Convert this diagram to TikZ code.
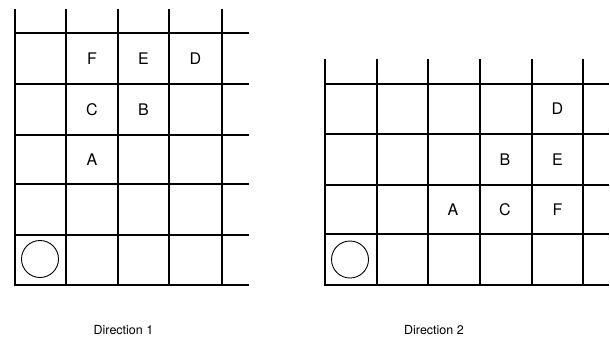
\documentclass[tikz,border=0pt]{standalone}
\usepackage{fontspec}
\setmainfont{TeX Gyre Heros}
\tikzset{
  gridLine/.style={line width=1.9pt, line cap=rect, color=black},
  originMark/.style={line width=0.9pt, color=black},
  cellLabel/.style={font=\fontsize{16}{16}\selectfont, inner sep=0pt},
  dirCaption/.style={font=\fontsize{12.5}{12.5}\selectfont, inner sep=0pt},
}
\begin{document}
\begin{tikzpicture}[x=1pt, y=-1pt]
\useasboundingbox (0,0) rectangle (610,338);

% ---- Direction 1 grid ------------------------------------------
\foreach \x in {15,66,118,169,222}
  \draw[gridLine] (\x,10) -- (\x,285);
\foreach \y in {33,84,135,184,235,285}
  \draw[gridLine] (15,\y) -- (248,\y);
\draw[originMark] (40,259) circle[radius=18.5];

\node[cellLabel] (oneF) at (92,58.5) {F};
\node[cellLabel] (oneE) at (143.5,58.5) {E};
\node[cellLabel] (oneD) at (195.5,58.5) {D};
\node[cellLabel] (oneC) at (92,109.5) {C};
\node[cellLabel] (oneB) at (143.5,109.5) {B};
\node[cellLabel] (oneA) at (92,159.5) {A};

% ---- Direction 2 grid ------------------------------------------
\foreach \x in {325,377,428,480,532,583}
  \draw[gridLine] (\x,60) -- (\x,285);
\foreach \y in {84,134,185,234,285}
  \draw[gridLine] (325,\y) -- (608,\y);
\draw[originMark] (350,259.5) circle[radius=18.5];

\node[cellLabel] (twoD) at (557.5,109) {D};
\node[cellLabel] (twoB) at (505,159.5) {B};
\node[cellLabel] (twoE) at (557.5,159.5) {E};
\node[cellLabel] (twoA) at (453,209.5) {A};
\node[cellLabel] (twoC) at (505,209.5) {C};
\node[cellLabel] (twoF) at (557.5,209.5) {F};

% ---- Captions --------------------------------------------------
\node[dirCaption] (capOne) at (123.5,330) {Direction 1};
\node[dirCaption] (capTwo) at (434,330) {Direction 2};

\end{tikzpicture}
\end{document}
